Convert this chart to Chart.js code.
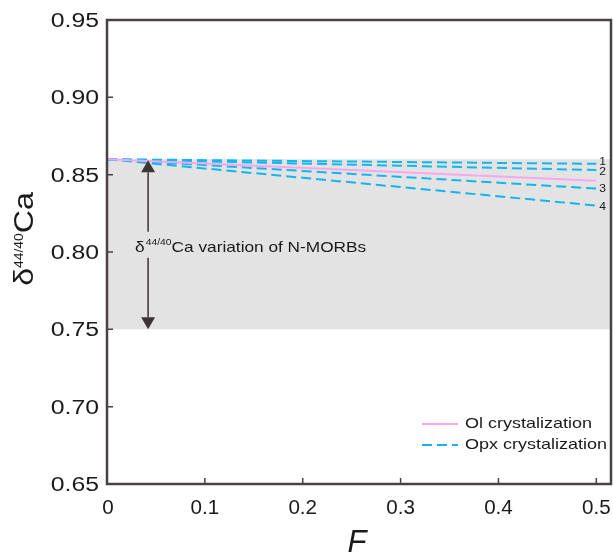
<!DOCTYPE html>
<html>
<head>
<meta charset="utf-8">
<script src="https://cdn.jsdelivr.net/npm/chart.js@4.4.1/dist/chart.umd.min.js"></script>
<style>
html,body{margin:0;padding:0;background:#fff;}
#wrap{width:613px;height:555px;}
</style>
</head>
<body>
<div id="wrap"><canvas id="c" width="613" height="555"></canvas></div>
<script>
// ---- data ----
const F_values = [0, 0.5];
const olValues = [0.860, 0.846];
const opx1Values = [0.860, 0.857];
const opx2Values = [0.860, 0.853];
const opx3Values = [0.860, 0.841];
const opx4Values = [0.860, 0.830];
const opxLabels = ['1', '2', '3', '4'];
const bandRange = [0.75, 0.86];
const arrowF = 0.042;
const xTicks = [0, 0.1, 0.2, 0.3, 0.4, 0.5];
const xTickLabels = ['0', '0.1', '0.2', '0.3', '0.4', '0.5'];
const yTicks = [0.65, 0.70, 0.75, 0.80, 0.85, 0.90, 0.95];
const yTickLabels = ['0.65', '0.70', '0.75', '0.80', '0.85', '0.90', '0.95'];
const legendLabels = ['Ol crystalization', 'Opx crystalization'];

const AXIS = '#4a4242';
const TXT = '#1a1a1a';
const PINK = '#f9a6f2';
const CYAN = '#12b6ee';
const FONT = '"Liberation Sans", Arial, sans-serif';

function pts(vals){ return F_values.map((f,i)=>({x:f,y:vals[i]})); }

const opxSets = [opx1Values, opx2Values, opx3Values, opx4Values];
const datasets = [
  {label: legendLabels[0], data: pts(olValues), borderColor: PINK, borderWidth: 2, pointRadius: 0, fill:false, tension:0}
];
opxSets.forEach((v,i)=>{
  datasets.push({label: i===0 ? legendLabels[1] : '', data: pts(v), borderColor: CYAN, borderWidth: 2, borderDash:[10,5], pointRadius:0, fill:false, tension:0});
});

// draw text stretched horizontally by sx; align: 'left' | 'right' | 'center'; returns width
function sText(ctx, text, x, y, sx, align){
  const w = ctx.measureText(text).width * sx;
  let x0 = x;
  if (align === 'right') x0 = x - w;
  else if (align === 'center') x0 = x - w/2;
  ctx.save();
  ctx.translate(x0, y);
  ctx.scale(sx, 1);
  ctx.textAlign = 'left';
  ctx.fillText(text, 0, 0);
  ctx.restore();
  return w;
}

const decorPlugin = {
  id: 'decor',
  beforeDatasetsDraw(chart){
    const {ctx, chartArea: a, scales: {x, y}} = chart;
    ctx.save();
    ctx.fillStyle = '#e3e3e3';
    const yt = y.getPixelForValue(bandRange[1]);
    const yb = y.getPixelForValue(bandRange[0]);
    ctx.fillRect(a.left, yt, a.right - a.left, yb - yt);
    ctx.restore();
  },
  afterDatasetsDraw(chart){
    const {ctx, chartArea: a, scales: {x, y}} = chart;
    ctx.save();
    // arrow
    const ax = x.getPixelForValue(arrowF);
    const yTop = y.getPixelForValue(bandRange[1]) + 1;
    const yBot = y.getPixelForValue(bandRange[0]);
    const ah = 12, aw = 7;
    const textBase = (yTop + yBot) / 2 + 7;
    ctx.strokeStyle = '#3f3434';
    ctx.fillStyle = '#3f3434';
    ctx.lineWidth = 1.5;
    ctx.beginPath();
    ctx.moveTo(ax, yTop + ah); ctx.lineTo(ax, textBase - 20);
    ctx.moveTo(ax, textBase + 6); ctx.lineTo(ax, yBot - ah);
    ctx.stroke();
    ctx.beginPath();
    ctx.moveTo(ax, yTop); ctx.lineTo(ax - aw, yTop + ah); ctx.lineTo(ax + aw, yTop + ah); ctx.closePath(); ctx.fill();
    ctx.beginPath();
    ctx.moveTo(ax, yBot); ctx.lineTo(ax - aw, yBot - ah); ctx.lineTo(ax + aw, yBot - ah); ctx.closePath(); ctx.fill();
    // annotation text
    ctx.fillStyle = TXT;
    ctx.textBaseline = 'alphabetic';
    let tx = ax - 13;
    ctx.font = '15px ' + FONT;
    tx += sText(ctx, 'δ', tx, textBase, 1.15, 'left') + 1;
    ctx.font = '9px ' + FONT;
    tx += sText(ctx, '44/40', tx, textBase - 7, 1.15, 'left');
    ctx.font = '15px ' + FONT;
    sText(ctx, 'Ca variation of N-MORBs', tx, textBase, 1.15, 'left');

    // line number labels
    ctx.font = '11px ' + FONT;
    ctx.fillStyle = TXT;
    ctx.textBaseline = 'middle';
    const offs = [-2, 2, 0, 1];
    opxSets.forEach((v,i)=>{
      const px = x.getPixelForValue(F_values[F_values.length-1]) + 3;
      const py = y.getPixelForValue(v[v.length-1]) + offs[i];
      sText(ctx, opxLabels[i], px, py, 1.1, 'left');
    });

    // legend
    const lx0 = 422, lx1 = 458, ly1 = 424, ly2 = 445;
    ctx.lineWidth = 2;
    ctx.strokeStyle = PINK;
    ctx.setLineDash([]);
    ctx.beginPath(); ctx.moveTo(lx0, ly1); ctx.lineTo(lx1, ly1); ctx.stroke();
    ctx.strokeStyle = CYAN;
    ctx.setLineDash([10,5]);
    ctx.beginPath(); ctx.moveTo(lx0, ly2); ctx.lineTo(lx1, ly2); ctx.stroke();
    ctx.setLineDash([]);
    ctx.font = '15px ' + FONT;
    ctx.fillStyle = TXT;
    ctx.textBaseline = 'middle';
    sText(ctx, legendLabels[0], 465, ly1, 1.2, 'left');
    sText(ctx, legendLabels[1], 465, ly2, 1.2, 'left');

    // frame
    ctx.strokeStyle = AXIS;
    ctx.lineWidth = 2.5;
    ctx.strokeRect(a.left, a.top, a.right - a.left, a.bottom - a.top);
    // inward ticks
    ctx.lineWidth = 1.5;
    ctx.beginPath();
    yTicks.forEach(v=>{ const py = y.getPixelForValue(v); ctx.moveTo(a.left, py); ctx.lineTo(a.left + 6, py); });
    xTicks.forEach(v=>{ const px = x.getPixelForValue(v); ctx.moveTo(px, a.bottom); ctx.lineTo(px, a.bottom - 6); });
    ctx.stroke();

    // tick labels
    ctx.fillStyle = TXT;
    ctx.font = '20px ' + FONT;
    ctx.textBaseline = 'alphabetic';
    yTicks.forEach((v,i)=>{
      const py = y.getPixelForValue(v);
      sText(ctx, yTickLabels[i], a.left - 8, py + 7, 1.24, 'right');
    });
    xTicks.forEach((v,i)=>{
      const px = x.getPixelForValue(v);
      sText(ctx, xTickLabels[i], px + (i===0 ? 1 : 0), 514, 1.03, 'center');
    });

    // axis titles
    ctx.font = 'italic 31px ' + FONT;
    ctx.textAlign = 'center';
    ctx.fillText('F', (a.left + a.right)/2 - 2, 552);
    // y title rotated
    ctx.save();
    ctx.translate(33, 239);
    ctx.rotate(-Math.PI/2);
    ctx.textAlign = 'left';
    ctx.textBaseline = 'alphabetic';
    const S = 1.15;
    ctx.font = '28px ' + FONT;
    const w1 = ctx.measureText('δ').width * S;
    ctx.font = '12px ' + FONT;
    const w2 = ctx.measureText('44/40').width * S;
    ctx.font = '28px ' + FONT;
    const w3 = ctx.measureText('Ca').width * S;
    let sx = -(w1 + w2 + w3)/2;
    ctx.font = '28px ' + FONT;
    sx += sText(ctx, 'δ', sx, 0, S, 'left');
    ctx.font = '12px ' + FONT;
    sx += sText(ctx, '44/40', sx, -10, S, 'left');
    ctx.font = '28px ' + FONT;
    sText(ctx, 'Ca', sx, 0, S, 'left');
    ctx.restore();
    ctx.restore();
  }
};

new Chart(document.getElementById('c'), {
  type: 'line',
  data: { datasets },
  plugins: [decorPlugin],
  options: {
    responsive: false,
    animation: false,
    devicePixelRatio: 1,
    layout: { padding: { top: 20, right: 2, left: 0, bottom: 0 } },
    plugins: { legend: { display: false }, tooltip: { enabled: false } },
    scales: {
      x: {
        type: 'linear', min: 0, max: 0.515,
        afterBuildTicks(s){ s.ticks = xTicks.map(v=>({value:v})); },
        afterFit(s){ s.height = 71; },
        grid: { display: false, drawTicks: false },
        border: { display: false },
        ticks: { display: false }
      },
      y: {
        type: 'linear', min: 0.65, max: 0.95,
        afterBuildTicks(s){ s.ticks = yTicks.map(v=>({value:v})); },
        afterFit(s){ s.width = 107; },
        grid: { display: false, drawTicks: false },
        border: { display: false },
        ticks: { display: false }
      }
    }
  }
});
</script>
</body>
</html>
